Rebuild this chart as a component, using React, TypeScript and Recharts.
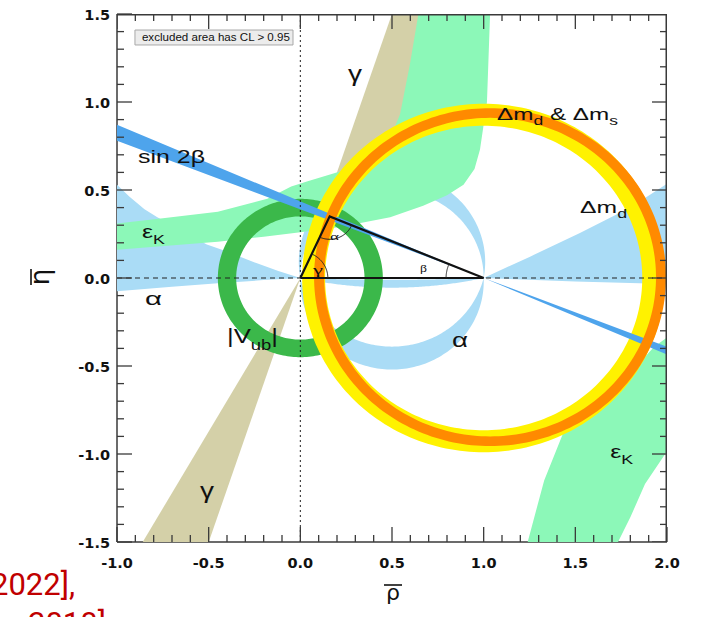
import React from 'react';
import { ComposedChart, Scatter, XAxis, YAxis } from 'recharts';

type P = [number, number];

// ---------- axes ----------
const X_DOMAIN: [number, number] = [-1, 2];
const Y_DOMAIN: [number, number] = [-1.5, 1.5];
const X_TICKS = [-1.0, -0.9, -0.8, -0.7, -0.6, -0.5, -0.4, -0.3, -0.2, -0.1, 0.0, 0.1, 0.2, 0.3, 0.4, 0.5, 0.6, 0.7, 0.8, 0.9, 1.0, 1.1, 1.2, 1.3, 1.4, 1.5, 1.6, 1.7, 1.8, 1.9, 2.0];
const Y_TICKS = [-1.5, -1.4, -1.3, -1.2, -1.1, -1.0, -0.9, -0.8, -0.7, -0.6, -0.5, -0.4, -0.3, -0.2, -0.1, 0.0, 0.1, 0.2, 0.3, 0.4, 0.5, 0.6, 0.7, 0.8, 0.9, 1.0, 1.1, 1.2, 1.3, 1.4, 1.5];

// ---------- constraints (rho, eta) ----------
const ALPHA_LEFT: P[] = [[0, 0], [-0.12, 0.04], [-0.24, 0.085], [-0.4, 0.15], [-0.51, 0.19], [-0.6, 0.24], [-0.7, 0.3], [-0.78, 0.345], [-0.85, 0.39], [-0.93, 0.46], [-1.0, 0.53], [-1.05, 0.57], [-1.05, -0.08], [-0.7, -0.05], [-0.45, -0.03], [-0.2, -0.012], [0, 0]];
const ALPHA_RIGHT: P[] = [[1, 0], [1.25, 0.12], [1.525, 0.255], [1.8, 0.4], [2.05, 0.57], [2.05, -0.035], [1.5, -0.02], [1, 0]];
// bands between two arcs through (0,0) and (1,0): side (+1 above / -1 below) and depth of each arc
const ALPHA_ARC_SIDES = [1, -1, -1];
const ALPHA_ARC_DEPTHS: [number, number][] = [[0.5, 0.6], [0.39, 0.52], [0.01, 0.055]];

const GAMMA_UPPER: P[] = [[0, 0], [0.533, 1.6], [1.0, 1.6]];
const GAMMA_LOWER: P[] = [[0, 0], [-0.917, -1.6], [-0.533, -1.6]];

const EPSK_UPPER: P[] = [[-1.05, 0.3], [-1.0, 0.31], [-0.75, 0.34], [-0.45, 0.377], [-0.18, 0.45], [-0.05, 0.52], [0.04, 0.55], [0.216, 0.605], [0.397, 0.648], [0.47, 0.745], [0.544, 0.93], [0.598, 1.216], [0.644, 1.5], [0.65, 1.6], [1.04, 1.6], [1.035, 1.5], [1.018, 1.0], [0.98, 0.73], [0.95, 0.62], [0.89, 0.53], [0.8, 0.47], [0.67, 0.41], [0.49, 0.345], [0.216, 0.29], [0.0, 0.26], [-0.2, 0.235], [-0.45, 0.206], [-1.0, 0.16], [-1.05, 0.155]];
const EPSK_LOWER: P[] = [[1.2, -1.6], [1.24, -1.5], [1.33, -1.15], [1.43, -0.89], [1.59, -0.71], [1.8, -0.54], [1.93, -0.39], [2.05, -0.3], [2.05, -0.9], [1.99, -1.0], [1.88, -1.17], [1.8, -1.36], [1.733, -1.5], [1.71, -1.6]];

const SIN2B: P[] = [[-1.05, 0.892], [1, 0], [2.05, -0.457], [2.05, -0.41], [1, 0], [-1.05, 0.8]];

// rings: centre, inner radius, outer radius
const VUB_RING = { c: [0, 0] as P, r0: 0.35, r1: 0.45 };
const DMD_RING = { c: [1.0, 0.0] as P, r0: 0.865, r1: 0.99 };
const DMS_RING = { c: [1.035, 0.005] as P, r0: 0.905, r1: 0.96 };

// unitarity triangle
const APEX: P = [0.16, 0.35];
const TRIANGLE: P[] = [[0, 0], [1, 0], APEX, [0, 0]];
const ANGLE_ARCS = [
  { c: [0, 0] as P, r: 0.15, a0: 0, a1: 65.4 },
  { c: APEX, r: 0.13, a0: -114.6, a1: -22.6 },
  { c: [1, 0] as P, r: 0.205, a0: 157.4, a1: 180 },
];
const ZERO_V: P[] = [[0, -1.5], [0, 1.5]];
const ZERO_H: P[] = [[-1, 0], [2, 0]];
const FRAME_TOP_RIGHT: P[] = [[-1, 1.5], [2, 1.5], [2, -1.5]];
const LEGEND_BOX: P[] = [[-0.902, 1.324], [-0.04, 1.324], [-0.04, 1.409], [-0.902, 1.409], [-0.902, 1.324]];

const LABELS = [
  { x: 0.26, y: 1.12, text: 'γ', size: 22, w: 14, font: 'sans' },
  { x: 1.073, y: 0.898, text: 'Δm_{d} & Δm_{s}', size: 17, w: 121, font: 'sans' },
  { x: -0.885, y: 0.653, text: 'sin 2β', size: 19, w: 67, font: 'sans' },
  { x: 1.526, y: 0.369, text: 'Δm_{d}', size: 17, w: 47, font: 'sans' },
  { x: -0.864, y: 0.227, text: 'ε_{K}', size: 19, w: 23, font: 'sans' },
  { x: -0.847, y: -0.153, text: 'α', size: 19, w: 17, font: 'sans' },
  { x: -0.4, y: -0.369, text: '|V_{ub}|', size: 21, w: 51, font: 'sans' },
  { x: 0.828, y: -0.392, text: 'α', size: 20, w: 16, font: 'sans' },
  { x: -0.547, y: -1.25, text: 'γ', size: 22, w: 14, font: 'sans' },
  { x: 1.69, y: -1.023, text: 'ε_{K}', size: 19, w: 23, font: 'sans' },
  { x: 0.162, y: 0.216, text: 'α', size: 11, w: 9, font: 'serif' },
  { x: 0.069, y: 0.023, text: 'γ', size: 12, w: 10, font: 'serif' },
  { x: 0.653, y: 0.034, text: 'β', size: 11, w: 7, font: 'serif' },
  { x: -0.864, y: 1.347, text: 'excluded area has CL > 0.95', size: 10, w: 148, font: 'sans' },
];

// ---------- colours ----------
const C_ALPHA = '#aadcf6';
const C_GAMMA = '#d4d0a8';
const C_EPSK = '#8cf8b8';
const C_VUB = '#3bb84a';
const C_DMD = '#fff200';
const C_DMS = '#ff8a00';
const C_SIN2B = '#4ea4ec';
const AXIS_COLOR = '#3a3a3a';

// ---------- geometry helpers ----------
const toXY = (pts: P[]) => pts.map(([x, y]) => ({ x, y }));

function ringPts(c: P, r0: number, r1: number, n = 240): P[] {
  const out: P[] = [];
  for (let i = 0; i <= n; i++) {
    const a = (2 * Math.PI * i) / n;
    out.push([c[0] + r1 * Math.cos(a), c[1] + r1 * Math.sin(a)]);
  }
  for (let i = n; i >= 0; i--) {
    const a = (2 * Math.PI * i) / n;
    out.push([c[0] + r0 * Math.cos(a), c[1] + r0 * Math.sin(a)]);
  }
  return out;
}

function arcThrough(depth: number, side: number, n = 120): P[] {
  const r = (0.25 + depth * depth) / (2 * depth);
  const cy = -side * (r - depth);
  const a0 = Math.atan2(-cy, -0.5);
  const a1 = Math.atan2(-cy, 0.5);
  const mod = (v: number) => ((v % (2 * Math.PI)) + 2 * Math.PI) % (2 * Math.PI);
  const delta = side < 0 ? mod(a1 - a0) : -mod(a0 - a1);
  const out: P[] = [];
  for (let i = 0; i <= n; i++) {
    const a = a0 + (delta * i) / n;
    out.push([0.5 + r * Math.cos(a), cy + r * Math.sin(a)]);
  }
  return out;
}

function arcBand(side: number, d: [number, number]): P[] {
  return [...arcThrough(d[1], side), ...arcThrough(d[0], side).reverse()];
}

function anglePts(c: P, r: number, a0: number, a1: number, n = 40): P[] {
  const out: P[] = [];
  for (let i = 0; i <= n; i++) {
    const a = ((a0 + ((a1 - a0) * i) / n) * Math.PI) / 180;
    out.push([c[0] + r * Math.cos(a), c[1] + r * Math.sin(a)]);
  }
  return out;
}

const Empty = () => <g />;

function band(key: string, pts: P[], fill: string) {
  return (
    <Scatter
      key={key}
      data={toXY(pts)}
      fill="none"
      line={{ fill, stroke: 'none' }}
      lineJointType="linear"
      shape={Empty}
      isAnimationActive={false}
    />
  );
}

function stroke(key: string, pts: P[], color: string, width: number, dash?: string) {
  return (
    <Scatter
      key={key}
      data={toXY(pts)}
      fill="none"
      line={{ fill: 'none', stroke: color, strokeWidth: width, strokeDasharray: dash }}
      lineJointType="linear"
      shape={Empty}
      isAnimationActive={false}
    />
  );
}

// ---------- text ----------
function rich(text: string, size: number) {
  const parts = text.split(/(_\{[^}]*\})/).filter((p) => p.length > 0);
  let sub = false;
  return parts.map((p, i) => {
    if (p.startsWith('_{')) {
      const el = (
        <tspan key={i} fontSize={size * 0.72} dy={sub ? 0 : size * 0.32}>
          {p.slice(2, -1)}
        </tspan>
      );
      sub = true;
      return el;
    }
    const el = (
      <tspan key={i} dy={sub ? -size * 0.32 : 0}>
        {p}
      </tspan>
    );
    sub = false;
    return el;
  });
}

function LabelShape(props: any) {
  const { cx, cy, payload } = props;
  if (cx == null || cy == null || !payload) return <g />;
  const fam = payload.font === 'serif' ? 'Liberation Serif, serif' : 'Liberation Sans, Arial, sans-serif';
  return (
    <text
      x={cx}
      y={cy}
      fontSize={payload.size}
      fontFamily={fam}
      fill="#111"
      textLength={payload.w}
      lengthAdjust="spacingAndGlyphs"
    >
      {rich(payload.text, payload.size)}
    </text>
  );
}

const isMajor = (v: number) => Math.abs(v * 2 - Math.round(v * 2)) < 1e-6;
const TICK_FONT = { fontFamily: 'DejaVu Sans, sans-serif', fontWeight: 700, fontSize: 14.5, fill: '#111' };

function BottomTick(props: any) {
  const { x, y, payload } = props;
  const v = payload.value as number;
  const M = isMajor(v);
  return (
    <g>
      <line x1={x} y1={y} x2={x} y2={y - (M ? 15 : 7)} stroke={AXIS_COLOR} strokeWidth={1.3} />
      {M && (
        <text x={x} y={y + 26} textAnchor="middle" {...TICK_FONT}>
          {v.toFixed(1)}
        </text>
      )}
    </g>
  );
}
function LeftTick(props: any) {
  const { x, y, payload } = props;
  const v = payload.value as number;
  const M = isMajor(v);
  return (
    <g>
      <line x1={x} y1={y} x2={x + (M ? 15 : 7)} y2={y} stroke={AXIS_COLOR} strokeWidth={1.3} />
      {M && (
        <text x={x - 7} y={y + 6} textAnchor="end" {...TICK_FONT}>
          {v.toFixed(1)}
        </text>
      )}
    </g>
  );
}
// inward ticks on the top and right frame edges, placed by the chart scales
function TopTickMark(props: any) {
  const { cx, cy, payload } = props;
  if (cx == null || cy == null) return <g />;
  const M = isMajor(payload.x);
  return <line x1={cx} y1={cy} x2={cx} y2={cy + (M ? 15 : 7)} stroke={AXIS_COLOR} strokeWidth={1.3} />;
}
function RightTickMark(props: any) {
  const { cx, cy, payload } = props;
  if (cx == null || cy == null) return <g />;
  const M = isMajor(payload.y);
  return <line x1={cx} y1={cy} x2={cx - (M ? 15 : 7)} y2={cy} stroke={AXIS_COLOR} strokeWidth={1.3} />;
}

export default function App() {
  const axisLine = { stroke: AXIS_COLOR, strokeWidth: 1.5 };
  return (
    <div style={{ position: 'absolute', left: 0, top: 0, width: 705, height: 617, background: '#fff', overflow: 'hidden' }}>
      <ComposedChart width={705} height={617} margin={{ top: 14, right: 38, bottom: 35, left: 57 }}>
        <XAxis
          dataKey="x"
          type="number"
          domain={X_DOMAIN}
          allowDataOverflow
          ticks={X_TICKS}
          interval={0}
          tickSize={0}
          tickMargin={0}
          tickLine={false}
          tick={BottomTick}
          axisLine={axisLine}
          height={40}
        />
        <YAxis
          dataKey="y"
          type="number"
          domain={Y_DOMAIN}
          allowDataOverflow
          ticks={Y_TICKS}
          interval={0}
          tickSize={0}
          tickMargin={0}
          tickLine={false}
          tick={LeftTick}
          axisLine={axisLine}
          width={60}
        />

        {band('alphaL', ALPHA_LEFT, C_ALPHA)}
        {band('alphaR', ALPHA_RIGHT, C_ALPHA)}
        {ALPHA_ARC_DEPTHS.map((d, i) => band('alphaArc' + i, arcBand(ALPHA_ARC_SIDES[i], d), C_ALPHA))}
        {band('gammaU', GAMMA_UPPER, C_GAMMA)}
        {band('gammaL', GAMMA_LOWER, C_GAMMA)}
        {band('epsU', EPSK_UPPER, C_EPSK)}
        {band('epsL', EPSK_LOWER, C_EPSK)}
        {band('vub', ringPts(VUB_RING.c, VUB_RING.r0, VUB_RING.r1), C_VUB)}
        {band('dmd', ringPts(DMD_RING.c, DMD_RING.r0, DMD_RING.r1), C_DMD)}
        {band('sin2b', SIN2B, C_SIN2B)}
        {band('dms', ringPts(DMS_RING.c, DMS_RING.r0, DMS_RING.r1), C_DMS)}

        {stroke('zeroV', ZERO_V, '#222', 1, '2 3')}
        {stroke('zeroH', ZERO_H, '#222', 1, '5 4')}
        {stroke('tri', TRIANGLE, '#111', 2.2)}
        {ANGLE_ARCS.map((a, i) => stroke('ang' + i, anglePts(a.c, a.r, a.a0, a.a1), '#222', 1))}

        <Scatter
          data={LEGEND_BOX.map(([x, y]) => ({ x, y }))}
          fill="none"
          line={{ fill: '#ececec', stroke: '#a8a8a8', strokeWidth: 1 }}
          lineJointType="linear"
          shape={Empty}
          isAnimationActive={false}
        />
        {stroke('frame', FRAME_TOP_RIGHT, AXIS_COLOR, 3)}
        <Scatter data={X_TICKS.map((x) => ({ x, y: Y_DOMAIN[1] }))} shape={TopTickMark} isAnimationActive={false} />
        <Scatter data={Y_TICKS.map((y) => ({ x: X_DOMAIN[1], y }))} shape={RightTickMark} isAnimationActive={false} />
        <Scatter data={LABELS} shape={LabelShape} isAnimationActive={false} />
      </ComposedChart>

      <svg width={705} height={617} style={{ position: 'absolute', left: 0, top: 0, pointerEvents: 'none' }}>
        <g transform="translate(49,277) rotate(-90)">
          <text x={0} y={0} textAnchor="middle" fontSize={26} fontFamily="DejaVu Sans, sans-serif" fill="#111">
            η
          </text>
          <line x1={-8} y1={-18} x2={8} y2={-18} stroke="#111" strokeWidth={1.6} />
        </g>
        <text x={393} y={600} textAnchor="middle" fontSize={22} fontFamily="DejaVu Sans, sans-serif" fill="#111">
          ρ
        </text>
        <line x1={384} y1={585} x2={402} y2={585} stroke="#111" strokeWidth={1.6} />
        <text x={-9} y={595} fontSize={31} fontFamily="Roboto, sans-serif" fill="#c00000">
          2022],
        </text>
        <text x={28} y={634} fontSize={31} fontFamily="Roboto, sans-serif" fill="#c00000">
          2018]
        </text>
      </svg>
    </div>
  );
}
